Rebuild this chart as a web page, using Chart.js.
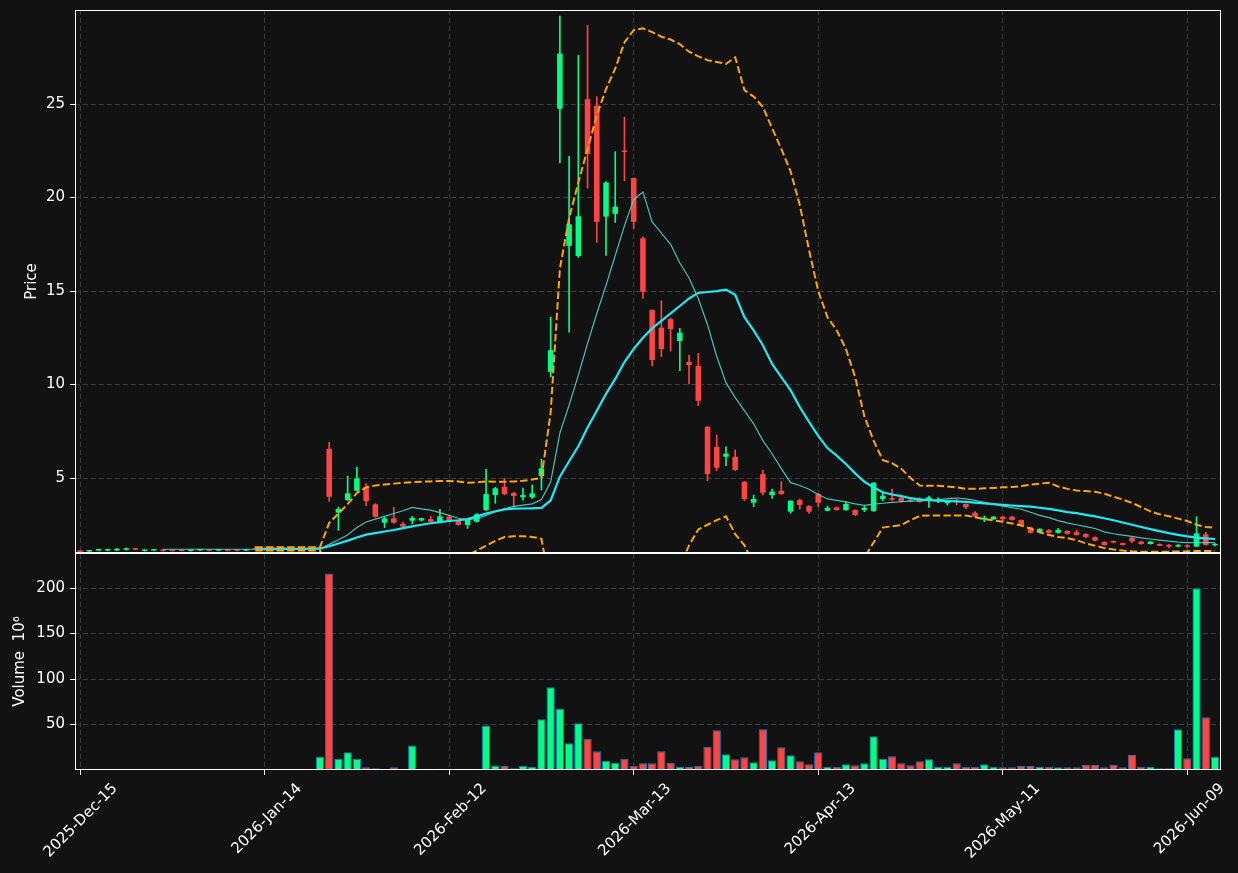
<!DOCTYPE html>
<html>
<head>
<meta charset="utf-8">
<script src="https://cdn.jsdelivr.net/npm/chart.js@4.4.1/dist/chart.umd.min.js"></script>
<style>
  html, body { margin: 0; padding: 0; background: #121212; }
</style>
</head>
<body>
<canvas id="chart" width="1238" height="873"></canvas>
<script>
// trading days (x categories)
var dates = [
  '2025-Dec-15','2025-Dec-16','2025-Dec-17','2025-Dec-18','2025-Dec-19','2025-Dec-22','2025-Dec-23','2025-Dec-24','2025-Dec-26','2025-Dec-29',
  '2025-Dec-30','2025-Dec-31','2026-Jan-02','2026-Jan-05','2026-Jan-06','2026-Jan-07','2026-Jan-08','2026-Jan-09','2026-Jan-12','2026-Jan-13',
  '2026-Jan-14','2026-Jan-15','2026-Jan-16','2026-Jan-20','2026-Jan-21','2026-Jan-22','2026-Jan-23','2026-Jan-26','2026-Jan-27','2026-Jan-28',
  '2026-Jan-29','2026-Jan-30','2026-Feb-02','2026-Feb-03','2026-Feb-04','2026-Feb-05','2026-Feb-06','2026-Feb-09','2026-Feb-10','2026-Feb-11',
  '2026-Feb-12','2026-Feb-13','2026-Feb-17','2026-Feb-18','2026-Feb-19','2026-Feb-20','2026-Feb-23','2026-Feb-24','2026-Feb-25','2026-Feb-26',
  '2026-Feb-27','2026-Mar-02','2026-Mar-03','2026-Mar-04','2026-Mar-05','2026-Mar-06','2026-Mar-09','2026-Mar-10','2026-Mar-11','2026-Mar-12',
  '2026-Mar-13','2026-Mar-16','2026-Mar-17','2026-Mar-18','2026-Mar-19','2026-Mar-20','2026-Mar-23','2026-Mar-24','2026-Mar-25','2026-Mar-26',
  '2026-Mar-27','2026-Mar-30','2026-Mar-31','2026-Apr-01','2026-Apr-02','2026-Apr-06','2026-Apr-07','2026-Apr-08','2026-Apr-09','2026-Apr-10',
  '2026-Apr-13','2026-Apr-14','2026-Apr-15','2026-Apr-16','2026-Apr-17','2026-Apr-20','2026-Apr-21','2026-Apr-22','2026-Apr-23','2026-Apr-24',
  '2026-Apr-27','2026-Apr-28','2026-Apr-29','2026-Apr-30','2026-May-01','2026-May-04','2026-May-05','2026-May-06','2026-May-07','2026-May-08',
  '2026-May-11','2026-May-12','2026-May-13','2026-May-14','2026-May-15','2026-May-18','2026-May-19','2026-May-20','2026-May-21','2026-May-22',
  '2026-May-26','2026-May-27','2026-May-28','2026-May-29','2026-Jun-01','2026-Jun-02','2026-Jun-03','2026-Jun-04','2026-Jun-05','2026-Jun-08',
  '2026-Jun-09','2026-Jun-10','2026-Jun-11','2026-Jun-12'
];

var opens = [
  1.10,1.07,1.12,1.12,1.13,1.16,1.22,1.10,1.12,1.15, 1.13,1.12,1.10,1.13,1.16,1.12,1.15,1.13,1.12,1.22,
  1.18,1.22,1.20,1.23,1.21,1.24,1.20,6.55,3.15,3.82, 4.32,4.53,3.60,2.61,2.84,2.54,2.72,2.73,2.80,2.66,
  2.93,2.70,2.49,2.66,3.29,4.09,4.53,4.20,3.97,3.97, 5.11,10.68,24.75,17.42,16.87,25.26,24.90,18.98,19.13,22.50,
  21.04,17.82,13.98,13.04,13.50,12.33,11.22,11.00,7.74,6.67, 6.14,6.14,4.80,3.68,5.21,4.09,4.32,3.20,3.82,3.50,
  4.14,3.25,3.43,3.29,3.29,3.29,3.24,3.88,3.93,3.95, 3.83,3.82,3.77,3.75,3.65,3.78,3.61,3.14,2.78,2.79,
  2.93,2.93,2.75,2.36,2.11,2.22,2.07,2.17,2.11,2.00, 1.84,1.58,1.60,1.52,1.81,1.60,1.47,1.47,1.43,1.33,
  1.36,1.33,1.99,1.40
];
var highs = [
  1.11,1.12,1.20,1.20,1.23,1.26,1.23,1.16,1.18,1.16, 1.14,1.13,1.16,1.19,1.17,1.14,1.19,1.14,1.19,1.35,
  1.26,1.27,1.26,1.28,1.27,1.29,1.30,6.90,3.45,5.10, 5.57,4.70,3.63,2.90,3.43,2.65,2.95,2.86,2.95,3.33,
  2.95,2.72,2.80,3.10,5.47,4.50,4.98,4.25,4.46,4.63, 6.00,13.60,29.70,22.20,27.60,29.20,25.40,20.85,22.45,24.30,
  21.05,17.90,14.00,14.48,13.55,13.00,11.58,11.67,7.76,7.30, 6.67,6.50,4.82,4.09,5.43,4.41,4.80,3.80,3.88,3.52,
  4.18,3.50,3.45,3.73,3.30,3.50,4.76,4.18,4.41,3.97, 3.87,3.95,4.04,3.95,3.80,3.88,3.62,3.20,2.97,2.95,
  2.94,2.95,2.76,2.38,2.30,2.24,2.31,2.19,2.22,2.02, 1.86,1.60,1.64,1.53,1.83,1.62,1.61,1.48,1.44,1.45,
  1.44,2.93,2.10,1.50
];
var lows = [
  1.03,1.06,1.11,1.11,1.12,1.15,1.16,1.09,1.11,1.09, 1.09,1.09,1.09,1.12,1.10,1.11,1.10,1.10,1.11,1.16,
  1.15,1.18,1.17,1.19,1.18,1.20,1.19,3.75,2.20,3.80, 4.30,3.52,2.90,2.35,2.58,2.38,2.55,2.70,2.64,2.62,
  2.68,2.47,2.31,2.64,3.25,3.65,4.10,3.45,3.82,3.90, 4.36,10.40,21.85,12.80,16.80,20.50,17.60,16.90,18.67,20.90,
  18.35,14.60,11.00,11.49,11.79,10.74,10.03,8.87,4.86,5.39, 5.66,5.40,3.79,3.47,4.09,3.91,4.12,3.12,3.34,3.11,
  3.47,3.24,3.28,3.27,3.00,3.20,3.20,3.79,3.79,3.70, 3.72,3.70,3.43,3.68,3.55,3.56,3.36,2.92,2.66,2.78,
  2.70,2.74,2.48,2.05,2.10,2.05,2.05,2.00,1.94,1.79, 1.63,1.40,1.53,1.41,1.54,1.45,1.46,1.37,1.28,1.32,
  1.30,1.32,1.40,1.37
];
var closes = [
  1.05,1.08,1.19,1.19,1.22,1.23,1.17,1.13,1.17,1.10, 1.10,1.10,1.15,1.15,1.11,1.13,1.11,1.11,1.18,1.17,
  1.22,1.20,1.23,1.21,1.24,1.22,1.27,4.00,3.35,4.18, 4.98,3.77,2.93,2.84,2.61,2.40,2.86,2.85,2.66,2.95,
  2.70,2.49,2.79,3.06,4.14,4.45,4.14,4.04,4.09,4.18, 5.52,11.84,27.70,18.57,19.00,22.33,18.70,20.80,19.51,22.44,
  18.70,14.96,11.31,11.90,12.97,12.77,11.04,9.13,5.21,5.55, 6.30,5.43,3.88,3.88,4.21,4.27,4.14,3.77,3.56,3.20,
  3.68,3.40,3.29,3.61,3.02,3.41,4.75,4.05,3.85,3.73, 3.76,3.72,3.97,3.82,3.77,3.72,3.43,2.93,2.88,2.93,
  2.80,2.76,2.49,2.07,2.27,2.07,2.22,2.02,1.95,1.84, 1.65,1.42,1.55,1.42,1.61,1.47,1.60,1.38,1.33,1.37,
  1.32,2.04,1.42,1.45
];
// volume, millions
var volumes = [
  0,0,0,0,0,0,0,0,0,0, 0,0,0,0,0,0,0,0,0,0.8,
  0,0,0,0,0,0,14.6,216,12.4,19.4, 12.4,3.0,1.8,0.8,3.0,0.8,27,0.3,0.3,1.5,
  0.3,0.3,0.4,1.5,49,5,4.4,2,4.5,3.5, 55.7,91,67.4,29.3,51.3,34.4,20.5,10.3,8,12.4,
  4.8,7.3,7.3,20.5,8,3.3,3.3,4.8,25.6,43.6, 17.2,11.7,13.9,8.4,44.7,10.6,24.9,16.1,9.5,6.2,
  19.4,3.7,3.7,6.2,5.1,7.3,37,12.4,15,7.3, 5.1,9.5,11.7,3.7,3.7,7.3,3.7,3.7,6.2,3.7,
  3,3,4.4,4.4,3.7,3.7,3,3,3,5.5, 5.5,3,5.5,3,16.5,3.7,3.7,1.8,1.8,44.7,
  12.8,199.7,57.9,14.6
];
// moving averages and bands
var ma10 = [
  null,null,null,null,null,null,null,null,null,1.19, 1.19,1.19,1.19,1.19,1.19,1.19,1.19,1.19,1.19,1.19,
  1.19,1.2,1.2,1.2,1.21,1.21,1.22,1.45,1.7,1.95, 2.35,2.65,2.8,2.95,3.1,3.25,3.43,3.35,3.28,3.15,
  3.0,2.85,2.77,2.82,3.0,3.2,3.35,3.48,3.55,3.62, 3.85,4.8,7.4,8.9,10.5,12.2,13.8,15.3,16.9,18.5,
  19.9,20.3,18.7,18.1,17.5,16.5,15.7,14.6,13.2,11.5, 10.1,9.3,8.6,7.9,7.0,6.3,5.5,4.75,4.6,4.4,
  4.12,3.88,3.8,3.72,3.62,3.54,3.6,3.65,3.7,3.73, 3.76,3.78,3.8,3.83,3.9,3.93,3.88,3.8,3.7,3.6,
  3.5,3.42,3.33,3.17,3.0,2.88,2.72,2.6,2.5,2.4, 2.3,2.12,2.02,1.95,1.88,1.8,1.74,1.68,1.62,1.57,
  1.54,1.54,1.55,1.55
];
var ma20 = [
  null,null,null,null,null,null,null,null,null,null, null,null,null,null,null,null,null,null,null,1.2,
  1.2,1.2,1.21,1.21,1.21,1.22,1.22,1.35,1.5,1.65, 1.82,1.97,2.05,2.14,2.22,2.32,2.41,2.5,2.58,2.64,
  2.7,2.74,2.8,2.95,3.1,3.22,3.32,3.36,3.37,3.38, 3.4,3.8,5.07,5.9,6.7,7.7,8.6,9.5,10.3,11.2,
  11.9,12.5,13.0,13.4,13.8,14.2,14.6,14.9,14.95,15.0, 15.08,14.8,13.6,12.9,12.1,11.1,10.4,9.7,8.8,8.0,
  7.25,6.6,6.2,5.75,5.25,4.8,4.5,4.24,4.12,4.03, 3.92,3.86,3.82,3.79,3.77,3.75,3.72,3.68,3.64,3.6,
  3.56,3.53,3.5,3.47,3.41,3.35,3.27,3.18,3.12,3.03, 2.95,2.85,2.74,2.62,2.5,2.38,2.27,2.16,2.05,1.96,
  1.88,1.81,1.77,1.74
];
var bandUpper = [
  null,null,null,null,null,null,null,null,null,null, null,null,null,null,null,null,null,null,null,1.3,
  1.3,1.3,1.3,1.3,1.3,1.3,1.3,2.6,3.1,3.6, 4.2,4.5,4.6,4.65,4.7,4.75,4.78,4.8,4.82,4.84,
  4.84,4.82,4.75,4.77,4.82,4.8,4.8,4.82,4.85,4.92, 5.0,8.5,16.2,18.9,20.8,22.6,24.4,25.8,26.9,28.3,
  28.95,29.05,28.85,28.6,28.45,28.2,27.8,27.55,27.35,27.25, 27.15,27.5,25.75,25.4,24.85,23.7,22.6,21.4,19.6,17.2,
  15.0,13.6,12.9,11.9,10.4,8.3,7.0,5.95,5.8,5.5, 5.0,4.6,4.58,4.58,4.55,4.5,4.42,4.42,4.45,4.47,
  4.5,4.52,4.57,4.64,4.7,4.75,4.55,4.42,4.33,4.3, 4.26,4.16,4.0,3.85,3.67,3.45,3.22,3.06,2.96,2.83,
  2.7,2.5,2.38,2.34
];
var bandLower = [
  null,null,null,null,null,null,null,null,null,null, null,null,null,null,null,null,null,null,null,1.12,
  1.12,1.12,1.12,1.12,1.12,1.12,1.12,0.1,-0.1,-0.3, -0.56,-0.56,-0.5,-0.37,-0.26,-0.11,0.04,0.2,0.34,0.44,
  0.56,0.66,0.85,1.13,1.38,1.64,1.84,1.88,1.88,1.85, 1.75,-0.9,-6.0,-7.1,-7.4,-7.2,-7.2,-6.8,-6.3,-5.9,
  -5.1,-4.0,-2.8,-1.8,-0.8,0.3,1.4,2.25,2.5,2.75, 2.95,2.0,1.4,0.4,-0.6,-1.5,-1.8,-2.0,-2.0,-1.2,
  -0.5,-0.4,-0.5,-0.4,-0.2,0.75,1.55,2.35,2.42,2.48, 2.75,2.97,3.0,3.0,3.0,3.0,3.0,2.9,2.8,2.73,
  2.66,2.57,2.46,2.3,2.1,1.95,1.85,1.78,1.68,1.5, 1.38,1.25,1.18,1.12,1.08,1.06,1.06,1.06,1.06,1.07,
  1.08,1.1,1.1,1.1
];
var priceTicks = [5, 10, 15, 20, 25];
var volumeTicks = [50, 100, 150, 200];
var dateTicks = [0, 20, 40, 60, 80, 100, 120];

var BG = '#121212';
var UP = '#00ff88';
var DOWN = '#ff4444';
var GRID = '#3a3a3a';
var font = { family: 'DejaVu Sans', size: 15 };

var colors = opens.map(function(o, i) { return closes[i] >= o ? UP : DOWN; });

function points(arr) {
  var out = [];
  arr.forEach(function(v, i) { if (v !== null) out.push({ x: i, y: v }); });
  return out;
}

function lineSet(label, arr, color, width, dash, order) {
  return {
    type: 'line', label: label, data: points(arr), yAxisID: 'y',
    borderColor: color, borderWidth: width, borderDash: dash,
    pointRadius: 0, tension: 0, fill: false, order: order
  };
}

////Frame and background/////
var framePlugin = {
  id: 'frame',
  beforeDraw: function(chart) {
    var ctx = chart.ctx;
    ctx.save();
    ctx.fillStyle = BG;
    ctx.fillRect(0, 0, chart.width, chart.height);
    ctx.restore();
  },
  afterDraw: function(chart) {
    var ctx = chart.ctx, a = chart.chartArea;
    var split = chart.scales.y.bottom;
    ctx.save();
    ctx.strokeStyle = '#ffffff';
    ctx.lineWidth = 1;
    ctx.strokeRect(a.left + 0.5, a.top + 0.5, a.right - a.left - 1, a.bottom - a.top - 1);
    ctx.lineWidth = 2;
    ctx.beginPath();
    ctx.moveTo(a.left, split);
    ctx.lineTo(a.right, split);
    ctx.stroke();
    ctx.restore();
  }
};

function yGrid() {
  return { color: GRID, lineWidth: 1, drawTicks: true, tickLength: 5, tickColor: '#ffffff', tickBorderDash: [] };
}

function fitY(s) {
  s.width = 75;
  s.paddingTop = 0;
  s.paddingBottom = 0;
}

var chart = new Chart(document.getElementById('chart'), {
  type: 'bar',
  data: {
    datasets: [
      lineSet('MA10', ma10, 'rgba(72,214,204,0.9)', 1.2, [], 1),
      lineSet('MA20', ma20, '#1ee9f7', 2.2, [], 1),
      lineSet('Upper', bandUpper, '#ffa500', 2, [7.4, 3.2], 0),
      lineSet('Lower', bandLower, '#ffa500', 2, [7.4, 3.2], 0),
      {
        label: 'body', yAxisID: 'y', order: 2,
        data: opens.map(function(o, i) { return { x: i, y: [o, closes[i]] }; }),
        backgroundColor: colors, borderWidth: 0,
        barPercentage: 0.6, categoryPercentage: 1, grouped: false, minBarLength: 1.5
      },
      {
        label: 'wick', yAxisID: 'y', order: 3,
        data: lows.map(function(l, i) { return { x: i, y: [l, highs[i]] }; }),
        backgroundColor: colors, borderWidth: 0,
        barThickness: 1, grouped: false
      },
      {
        label: 'Volume', yAxisID: 'yv', order: 4,
        data: volumes.map(function(v, i) { return { x: i, y: v }; }),
        backgroundColor: colors, borderColor: '#1f77b4', borderWidth: 1,
        barPercentage: 0.9, categoryPercentage: 1, grouped: false
      }
    ]
  },
  options: {
    responsive: false,
    animation: false,
    layout: { padding: { top: 10, right: 17, left: 0, bottom: 0 } },
    plugins: { legend: { display: false }, tooltip: { enabled: false } },
    scales: {
      x: {
        type: 'linear', min: -0.55, max: 123.65, offset: false,
        afterBuildTicks: function(s) { s.ticks = dateTicks.map(function(v) { return { value: v }; }); },
        afterFit: function(s) { s.height = 103; s.paddingLeft = 0; s.paddingRight = 0; },
        ticks: {
          autoSkip: false, minRotation: 45, maxRotation: 45, color: '#ffffff', font: font,
          padding: 5, labelOffset: 35,
          callback: function(v) { return dates[v]; }
        },
        grid: { color: GRID, lineWidth: 1, offset: false, drawTicks: true, tickLength: 5, tickColor: '#ffffff', tickBorderDash: [] },
        border: { display: false, dash: [5, 3] }
      },
      // left boxes are stacked in reverse order: listed last ends up on top
      yv: {
        type: 'linear', position: 'left', stack: 'panels', stackWeight: 217,
        min: 0, max: 238.5,
        afterBuildTicks: function(s) { s.ticks = volumeTicks.map(function(v) { return { value: v }; }); },
        afterFit: fitY,
        ticks: { color: '#ffffff', font: font, padding: 5 },
        grid: yGrid(),
        border: { display: false, dash: [5, 3] },
        title: { display: true, text: 'Volume  10\u2076', color: '#ffffff', font: font, padding: { top: 11, bottom: 0 } }
      },
      y: {
        type: 'linear', position: 'left', stack: 'panels', stackWeight: 543,
        min: 0.99, max: 30.03,
        afterBuildTicks: function(s) { s.ticks = priceTicks.map(function(v) { return { value: v }; }); },
        afterFit: fitY,
        ticks: { color: '#ffffff', font: font, padding: 5 },
        grid: yGrid(),
        border: { display: false, dash: [5, 3] },
        title: { display: true, text: 'Price', color: '#ffffff', font: font, padding: { top: 23, bottom: 0 } }
      }
    }
  },
  plugins: [framePlugin]
});
</script>
</body>
</html>
